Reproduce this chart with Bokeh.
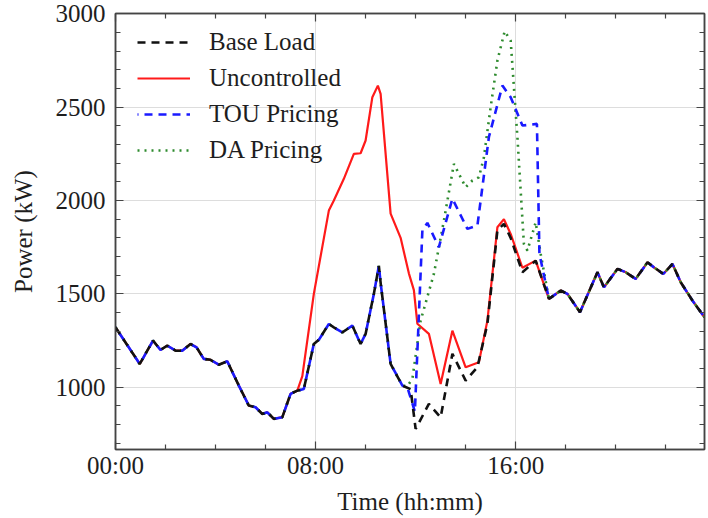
from bokeh.plotting import figure
from bokeh.models import (FixedTicker, LinearAxis, Legend, LegendItem, Range1d)
from bokeh.embed import file_html
from bokeh.resources import INLINE

# ---- data (hours of day, kW) ----
base_t = [0, 0.97, 1.5, 1.8, 2.07, 2.4, 2.67, 3.0, 3.24, 3.53, 3.8, 4.13, 4.47, 4.93,
          5.33, 5.6, 5.87, 6.07, 6.33, 6.67, 7.0, 7.27, 7.53, 7.93, 8.13, 8.53, 8.73,
          9.07, 9.47, 9.8, 10.0, 10.33, 10.53, 10.6, 11.0, 11.47, 11.8, 12.0, 12.53,
          13.0, 13.47, 14.0, 14.47, 14.87, 15.27, 15.53, 15.8, 16.27, 16.8, 17.33,
          17.8, 18.07, 18.57, 19.27, 19.53, 20.07, 20.4, 20.8, 21.27, 21.53, 21.9,
          22.27, 22.6, 23.07, 23.55]
base_v = [1321, 1125, 1250, 1200, 1223, 1196, 1196, 1232, 1214, 1152, 1147, 1121, 1139,
          1009, 902, 893, 857, 866, 831, 840, 965, 982, 991, 1232, 1254, 1339, 1321,
          1294, 1330, 1232, 1286, 1500, 1650, 1560, 1125, 1009, 990, 777, 911, 839,
          1179, 1036, 1107, 1340, 1840, 1875, 1800, 1616, 1678, 1473, 1518, 1500, 1402,
          1616, 1535, 1634, 1616, 1580, 1669, 1642, 1607, 1660, 1562, 1464, 1375]

unc_t = [7.47, 7.93, 8.53, 8.73, 9.13, 9.53, 9.8, 10.0, 10.27, 10.49, 10.6, 11.0, 11.4,
         11.73, 11.93, 12.07, 12.53, 13.0, 13.47, 14.0, 14.53, 14.87, 15.27, 15.53,
         15.8, 16.27]
unc_v = [1060, 1500, 1946, 2000, 2116, 2250, 2253, 2321, 2553, 2615, 2571, 1930, 1800,
         1610, 1520, 1340, 1286, 1018, 1303, 1107, 1134, 1357, 1857, 1900, 1821, 1640]
unc_span = (7.27, 16.8)

tou_t = [11.67, 11.97, 12.27, 12.47, 12.93, 13.47, 14.07, 14.47, 14.93, 15.47, 15.8,
         16.27, 16.85, 16.95]
tou_v = [1000, 870, 1840, 1880, 1750, 2010, 1848, 1866, 2340, 2615, 2553, 2401, 2410,
         1714]
tou_span = (11.47, 17.33)

da_t = [11.67, 11.87, 12.2, 12.73, 13.13, 13.53, 14.0, 14.27, 14.53, 14.73, 15.0, 15.27,
        15.56, 15.8, 16.07, 16.33, 16.47, 16.8, 17.0]
da_v = [1007, 1045, 1357, 1607, 1892, 2196, 2071, 2107, 2124, 2231, 2500, 2749, 2906,
        2856, 2338, 1767, 1732, 1883, 1714]
da_span = (11.47, 17.33)

x_tick_hours = [0, 8, 16]
x_tick_labels = ["00:00", "08:00", "16:00"]
x_minor_hours = [2, 4, 6, 10, 12, 14, 18, 20, 22]
y_ticks = [1000, 1500, 2000, 2500, 3000]
y_minor = list(range(700, 3001, 100))

series_names = ["Base Load", "Uncontrolled", "TOU Pricing", "DA Pricing"]


def splice(seg_t, seg_v, span):
    t0, t1 = span
    xs = [t for t in base_t if t <= t0] + seg_t + [t for t in base_t if t >= t1]
    ys = ([v for t, v in zip(base_t, base_v) if t <= t0] + seg_v +
          [v for t, v in zip(base_t, base_v) if t >= t1])
    return xs, ys


unc_x, unc_y = splice(unc_t, unc_v, unc_span)
tou_x, tou_y = splice(tou_t, tou_v, tou_span)
da_x, da_y = splice(da_t, da_v, da_span)

FONT = "Liberation Serif"
TXT = "#1e1e1e"
AX = "#444444"
FS = "25px"

p = figure(width=708, height=518, output_backend="svg", toolbar_location=None,
           x_range=Range1d(0, 23.55), y_range=Range1d(667, 3001),
           min_border_left=115, min_border_right=4, min_border_top=13,
           min_border_bottom=69)
p.background_fill_color = "white"
p.border_fill_color = "white"
p.outline_line_color = AX
p.outline_line_width = 1.5

xt = FixedTicker(ticks=x_tick_hours, minor_ticks=x_minor_hours)
yt = FixedTicker(ticks=y_ticks, minor_ticks=y_minor)

for ax in p.xaxis:
    ax.ticker = xt
    ax.major_label_overrides = {h: s for h, s in zip(x_tick_hours, x_tick_labels)}
    ax.axis_label = "Time (hh:mm)"
for ax in p.yaxis:
    ax.ticker = yt
    ax.axis_label = "Power (kW)"

p.xgrid.ticker = xt
p.ygrid.ticker = yt
p.grid.grid_line_color = "#dddddd"
p.grid.grid_line_width = 1

top_ax = LinearAxis(ticker=xt)
right_ax = LinearAxis(ticker=yt)
p.add_layout(top_ax, "above")
p.add_layout(right_ax, "right")

for ax in [top_ax, right_ax]:
    ax.major_label_text_font_size = "0px"
    ax.major_label_standoff = 0
    ax.axis_label = None

for ax in p.axis:
    ax.axis_line_color = AX
    ax.axis_line_width = 1.5
    ax.major_tick_line_color = AX
    ax.minor_tick_line_color = AX
    ax.major_tick_line_width = 1.2
    ax.minor_tick_line_width = 1.2
    ax.major_tick_in = 8
    ax.major_tick_out = 0
    ax.minor_tick_in = 5
    ax.minor_tick_out = 0
    ax.major_label_text_font = FONT
    ax.axis_label_text_font = FONT
    ax.axis_label_text_font_style = "normal"
    ax.major_label_text_color = TXT
    ax.axis_label_text_color = TXT

bx = p.below[0]
bx.major_label_text_font_size = FS
bx.axis_label_text_font_size = FS
bx.major_label_standoff = 2
bx.axis_label_standoff = 6
ly = p.left[0]
ly.major_label_text_font_size = FS
ly.axis_label_text_font_size = FS
ly.major_label_standoff = 10
ly.axis_label_standoff = 16

r_unc = p.line(unc_x, unc_y, line_color="#ff1a1a", line_width=2.2)
r_da = p.line(da_x, da_y, line_color="#2e8b2e", line_width=2.6, line_dash="2 5")
r_tou = p.line(tou_x, tou_y, line_color="#1a1aff", line_width=2.6, line_dash="8 6",
               line_dash_offset=7)
r_base = p.line(base_t, base_v, line_color="#111111", line_width=2.6, line_dash="8 6")

legend = Legend(items=[LegendItem(label=series_names[0], renderers=[r_base]),
                       LegendItem(label=series_names[1], renderers=[r_unc]),
                       LegendItem(label=series_names[2], renderers=[r_tou]),
                       LegendItem(label=series_names[3], renderers=[r_da])],
                location=(22, 284), padding=0, margin=0, spacing=6,
                glyph_width=53, glyph_height=30, label_height=30,
                label_standoff=19, border_line_color=None,
                background_fill_alpha=0.0,
                label_text_font=FONT, label_text_font_size=FS,
                label_text_color=TXT)
p.add_layout(legend)

open("out.html", "w").write(file_html(p, INLINE))
